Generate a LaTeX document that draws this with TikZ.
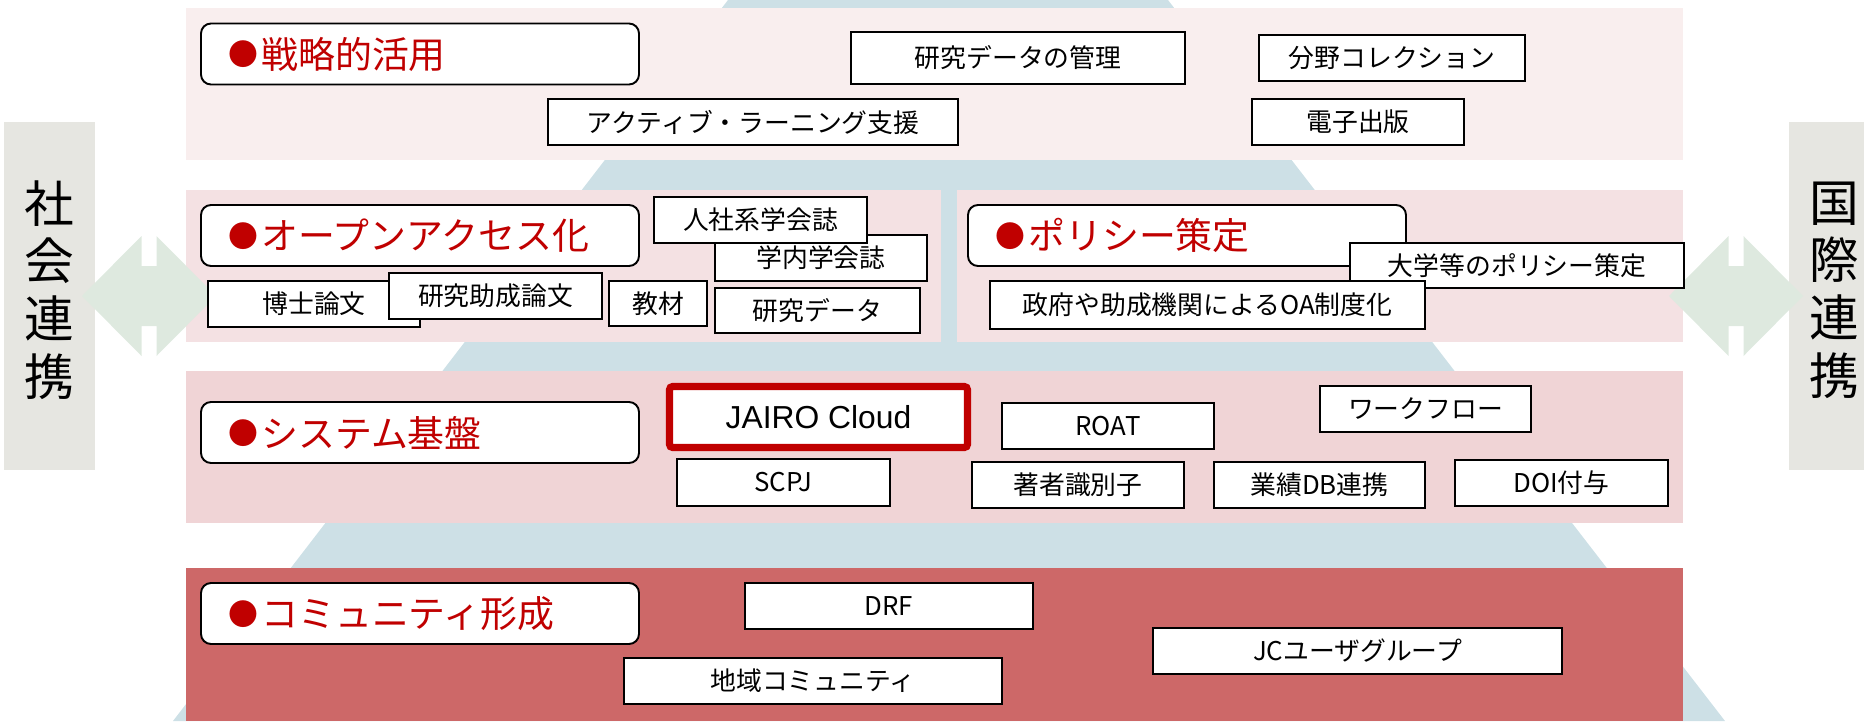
\documentclass[tikz,border=0pt]{standalone}
\usepackage{fontspec}
\newfontfamily\jpfont{Noto Sans CJK JP}
\newfontfamily\latinfont{Liberation Sans}

\definecolor{bandA}{HTML}{F9EEEE}
\definecolor{bandB}{HTML}{F4E1E3}
\definecolor{bandC}{HTML}{F0D4D6}
\definecolor{bandD}{HTML}{CD6868}
\definecolor{pyramid}{HTML}{CDE0E6}
\definecolor{sidegrey}{HTML}{E6E6E1}
\definecolor{arrowgreen}{HTML}{DEE9DF}
\definecolor{jred}{HTML}{C00000}

\newcommand\headdot{{\fontsize{17pt}{20pt}\selectfont\raisebox{1.2pt}{●}}\kern2pt}

\tikzset{
  item/.style 2 args={draw, line width=1.1pt, fill=white, inner sep=0pt,
    minimum width=#1*0.02cm, minimum height=#2*0.02cm,
    font=\jpfont\fontsize{14.7pt}{17pt}\selectfont},
  head/.style={draw, line width=1.1pt, fill=white, rounded corners=0.2cm,
    minimum height=61*0.02cm, text width=384*0.02cm, inner xsep=27*0.02cm,
    inner ysep=0pt, align=left, text=jred,
    font=\jpfont\fontsize{21pt}{24pt}\selectfont},
  sidebox/.style={fill=sidegrey, inner sep=0pt,
    minimum width=91*0.02cm, minimum height=348*0.02cm},
  sidetext/.style={inner sep=0pt, align=center,
    font=\jpfont\fontsize{28.3pt}{32.9pt}\selectfont},
  cloud/.style={draw=jred, line width=4pt, rounded corners=0.06cm,
    font=\latinfont\fontsize{18.1pt}{21pt}\selectfont}
}

\begin{document}
\begin{tikzpicture}[x=0.02cm, y=-0.02cm]
  \useasboundingbox (0,0) rectangle (1864,721);
  \fill[pyramid] (728,0) -- (1168,0) -- (1725,721) -- (173,721) -- cycle;
  \fill[bandA] (186,8) rectangle (1683,160);
  \fill[bandB] (186,190) rectangle (941,342);
  \fill[bandB] (957,190) rectangle (1683,342);
  \fill[bandC] (186,371) rectangle (1683,523);
  \fill[bandD] (186,568) rectangle (1683,721);

  \node[sidebox] (social) at (49.5,296) {};
  \node[sidetext] (socialtxt) at (49.5,290) {社\\会\\連\\携};
  \node[sidebox] (intl) at (1834.5,296) {};
  \node[sidetext] (intltxt) at (1834.5,290) {国\\際\\連\\携};

  \foreach \c in {149,1736}
    \fill[arrowgreen, shift={(\c,296)}] (-67,0) -- (-7.5,-60) -- (-7.5,-30)
      -- (7.5,-30) -- (7.5,-60) -- (67,0) -- (7.5,60) -- (7.5,30)
      -- (-7.5,30) -- (-7.5,60) -- cycle;

  \node[head] (strat) at (420,54) {\headdot 戦略的活用};
  \node[item={334}{52}] (rdm) at (1018,58) {研究データの管理};
  \node[item={266}{46}] (field) at (1392,58) {分野コレクション};
  \node[item={410}{46}] (active) at (753,122) {アクティブ・ラーニング支援};
  \node[item={212}{46}] (epub) at (1358,122) {電子出版};

  \node[head] (oa) at (420,235.5) {\headdot オープンアクセス化};
  \node[item={212}{46}] (inhouse) at (821,258) {学内学会誌};
  \node[item={213}{46}] (hss) at (760.5,220) {人社系学会誌};
  \node[item={212}{46}] (thesis) at (314,304) {博士論文};
  \node[item={213}{46}] (grant) at (495.5,296) {研究助成論文};
  \node[item={98}{45}] (material) at (658,303.5) {教材};
  \node[item={205}{45}] (rdata) at (817.5,310.5) {研究データ};

  \node[head] (policy) at (1187,235.5) {\headdot ポリシー策定};
  \node[item={334}{45}] (univ) at (1517,265.5) {大学等のポリシー策定};
  \node[item={435}{48}] (gov) at (1207.5,305) {政府や助成機関によるOA制度化};

  \node[head] (sys) at (420,432.5) {\headdot システム基盤};
  \node[item={298}{61}, cloud] (jairo) at (818.5,417) {JAIRO Cloud};
  \node[item={213}{47}] (scpj) at (783.5,482.5) {SCPJ};
  \node[item={212}{46}] (roat) at (1108,426) {ROAT};
  \node[item={211}{46}] (flow) at (1425.5,409) {ワークフロー};
  \node[item={212}{46}] (author) at (1078,485) {著者識別子};
  \node[item={211}{46}] (achv) at (1319.5,485) {業績DB連携};
  \node[item={213}{46}] (doi) at (1561.5,483) {DOI付与};

  \node[head] (comm) at (420,613.5) {\headdot コミュニティ形成};
  \node[item={288}{46}] (drf) at (889,606) {DRF};
  \node[item={378}{46}] (local) at (813,681) {地域コミュニティ};
  \node[item={409}{46}] (jcug) at (1357.5,651) {JCユーザグループ};
\end{tikzpicture}
\end{document}
